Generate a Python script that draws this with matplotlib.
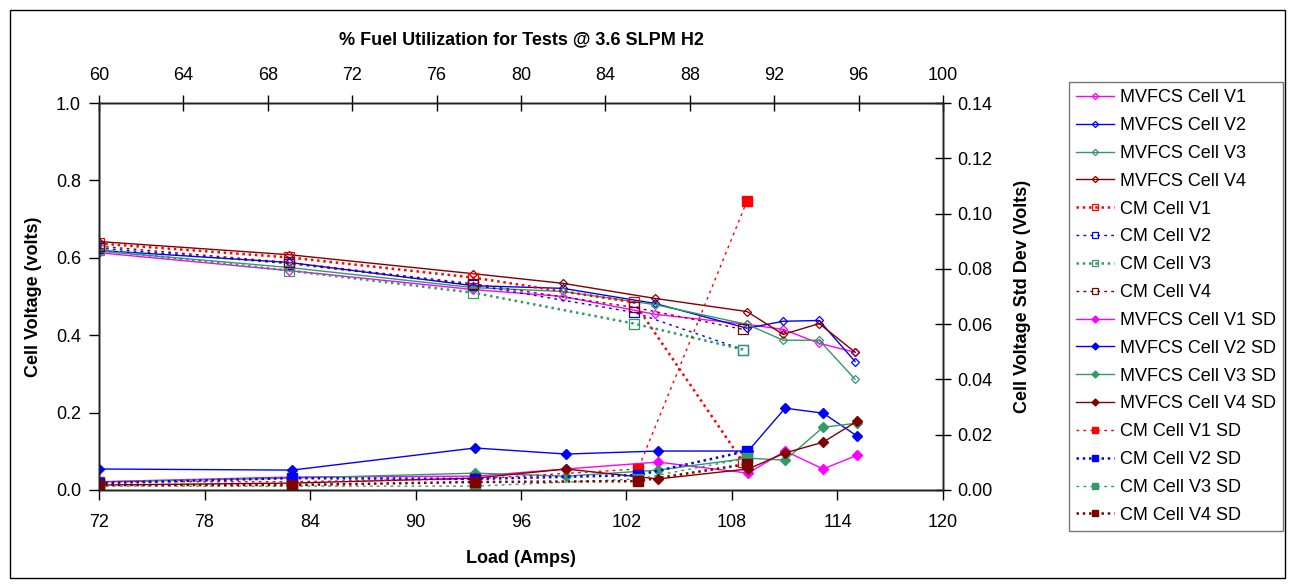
import matplotlib.pyplot as plt
from matplotlib.patches import Rectangle

plt.rcParams["font.family"] = ["Liberation Sans", "DejaVu Sans"]

# load (Amps) for each series
load_mv = [72, 82.81, 93.27, 98.39, 103.63, 108.86, 110.91, 112.96, 115.0]
load_mv_sd = [72, 82.98, 93.39, 98.56, 103.79, 108.92, 111.02, 113.18, 115.12]
load_cm = [72, 82.81, 93.27, 102.43, 108.63]
load_cm_sd = [72, 82.98, 93.39, 102.66, 108.86]

# cell voltages (volts)
mv_v1 = [0.613, 0.567, 0.518, 0.500, 0.454, 0.428, 0.415, 0.379, 0.356]
mv_v2 = [0.619, 0.588, 0.528, 0.521, 0.482, 0.418, 0.436, 0.438, 0.332]
mv_v3 = [0.617, 0.575, 0.523, 0.513, 0.479, 0.428, 0.387, 0.387, 0.286]
mv_v4 = [0.642, 0.608, 0.559, 0.534, 0.495, 0.461, 0.402, 0.430, 0.356]
cm_v1 = [0.637, 0.601, 0.549, 0.485, 0.072]
cm_v2 = [0.625, 0.585, 0.530, 0.459, 0.363]
cm_v3 = [0.620, 0.567, 0.510, 0.430, 0.363]
cm_v4 = [0.630, 0.588, 0.533, 0.472, 0.415]

# std dev (volts)
mv_v1_sd = [0.0030, 0.0047, 0.0050, 0.0076, 0.0101, 0.0061, 0.0141, 0.0076, 0.0126]
mv_v2_sd = [0.0076, 0.0072, 0.0152, 0.0130, 0.0141, 0.0141, 0.0296, 0.0278, 0.0195]
mv_v3_sd = [0.0029, 0.0043, 0.0061, 0.0050, 0.0072, 0.0115, 0.0108, 0.0227, 0.0242]
mv_v4_sd = [0.0018, 0.0025, 0.0043, 0.0076, 0.0040, 0.0076, 0.0134, 0.0173, 0.0249]
cm_v1_sd = [0.0030, 0.0030, 0.0040, 0.0076, 0.1046]
cm_v2_sd = [0.0025, 0.0043, 0.0040, 0.0054, 0.0141]
cm_v3_sd = [0.0014, 0.0014, 0.0014, 0.0040, 0.0115]
cm_v4_sd = [0.0018, 0.0018, 0.0029, 0.0032, 0.0094]

x_ticks = [72, 78, 84, 90, 96, 102, 108, 114, 120]
fu_ticks = [60, 64, 68, 72, 76, 80, 84, 88, 92, 96, 100]
v_ticks = [0.0, 0.2, 0.4, 0.6, 0.8, 1.0]
sd_ticks = [0.0, 0.02, 0.04, 0.06, 0.08, 0.10, 0.12, 0.14]

MAG, BLUE, GREEN, MAROON, RED = "#FF00FF", "#0000FF", "#339966", "#800000", "#FF0000"
FS = 13

fig = plt.figure(figsize=(12.89, 5.84), dpi=100)
ax = fig.add_axes([99 / 1289, 1 - 490 / 584, (943 - 99) / 1289, (490 - 103) / 584])
ax_r = ax.twinx()
ax_t = ax.twiny()

lines = []
for y, c, lab in [(mv_v1, MAG, "MVFCS Cell V1"), (mv_v2, BLUE, "MVFCS Cell V2"),
                  (mv_v3, GREEN, "MVFCS Cell V3"), (mv_v4, MAROON, "MVFCS Cell V4")]:
    lines += ax.plot(load_mv, y, color=c, lw=1.0, marker="D", ms=4.5, mfc="none",
                     mec=c, mew=0.9, label=lab)

cm_styles = [(cm_v1, RED, (0, (1, 1.5)), 1.8, "CM Cell V1"),
             (cm_v2, BLUE, (0, (2, 3)), 1.0, "CM Cell V2"),
             (cm_v3, GREEN, (0, (1, 1.5)), 1.8, "CM Cell V3"),
             (cm_v4, MAROON, (0, (2, 3)), 1.0, "CM Cell V4")]
for y, c, ls, lw, lab in cm_styles:
    lines += ax.plot(load_cm, y, color=c, lw=lw, ls=ls, marker="s", ms=6.5, mfc="none",
                     mec=c, mew=0.9, label=lab)

for y, c, lab in [(mv_v1_sd, MAG, "MVFCS Cell V1 SD"), (mv_v2_sd, BLUE, "MVFCS Cell V2 SD"),
                  (mv_v3_sd, GREEN, "MVFCS Cell V3 SD"), (mv_v4_sd, MAROON, "MVFCS Cell V4 SD")]:
    lines += ax_r.plot(load_mv_sd, y, color=c, lw=1.0, marker="D", ms=5, mfc=c,
                       mec=c, label=lab)

cm_sd_styles = [(cm_v1_sd, RED, (0, (2, 3)), 1.0, "CM Cell V1 SD"),
                (cm_v2_sd, BLUE, (0, (1, 1.5)), 1.8, "CM Cell V2 SD"),
                (cm_v3_sd, GREEN, (0, (2, 3)), 1.0, "CM Cell V3 SD"),
                (cm_v4_sd, MAROON, (0, (1, 1.5)), 1.8, "CM Cell V4 SD")]
for y, c, ls, lw, lab in cm_sd_styles:
    lines += ax_r.plot(load_cm_sd, y, color=c, lw=lw, ls=ls, marker="s", ms=7, mfc=c,
                       mec=c, label=lab)

ax.set_xlim(72, 120)
ax.set_ylim(0, 1.0)
ax_r.set_ylim(0, 0.14)
ax_t.set_xlim(60, 100)

ax.set_xticks(x_ticks)
ax.set_yticks(v_ticks)
ax.set_yticklabels([f"{v:.1f}" for v in v_ticks])
ax_r.set_yticks(sd_ticks)
ax_r.set_yticklabels([f"{v:.2f}" for v in sd_ticks])
ax_t.set_xticks(fu_ticks)

ax.tick_params(axis="x", direction="out", length=7, width=1, labelsize=FS, pad=10)
ax.tick_params(axis="y", direction="out", length=7, width=1, labelsize=FS, pad=6)
ax_r.tick_params(axis="y", direction="inout", length=12, width=1, labelsize=FS, pad=4)
ax_t.tick_params(axis="x", direction="inout", length=12, width=1, labelsize=FS, pad=8)

for a in (ax, ax_r, ax_t):
    for s in a.spines.values():
        s.set_linewidth(1.0)
        s.set_color("#222222")

ax.set_xlabel("Load (Amps)", fontsize=FS, fontweight="bold", labelpad=14)
ax.set_ylabel("Cell Voltage (volts)", fontsize=FS, fontweight="bold", labelpad=10)
ax_r.set_ylabel("Cell Voltage Std Dev (Volts)", fontsize=FS, fontweight="bold", labelpad=16)
ax_t.set_xlabel("% Fuel Utilization for Tests @ 3.6 SLPM H2", fontsize=FS,
                fontweight="bold", labelpad=16)

leg = fig.legend(handles=lines, loc="upper left",
                 bbox_to_anchor=(1069 / 1289, 1 - 82 / 584), fontsize=13,
                 frameon=True, fancybox=False, borderpad=0.4, labelspacing=0.6,
                 handlelength=2.1, handletextpad=0.3, borderaxespad=0, markerscale=0.7)
leg.get_frame().set_edgecolor("#555555")
leg.get_frame().set_linewidth(1.0)

fig.patches.append(Rectangle((10 / 1289, 6 / 584), 1 - 14 / 1289, 1 - 16 / 584,
                             transform=fig.transFigure, fill=False,
                             edgecolor="black", lw=1.0))

fig.savefig("out.png", dpi=100)
